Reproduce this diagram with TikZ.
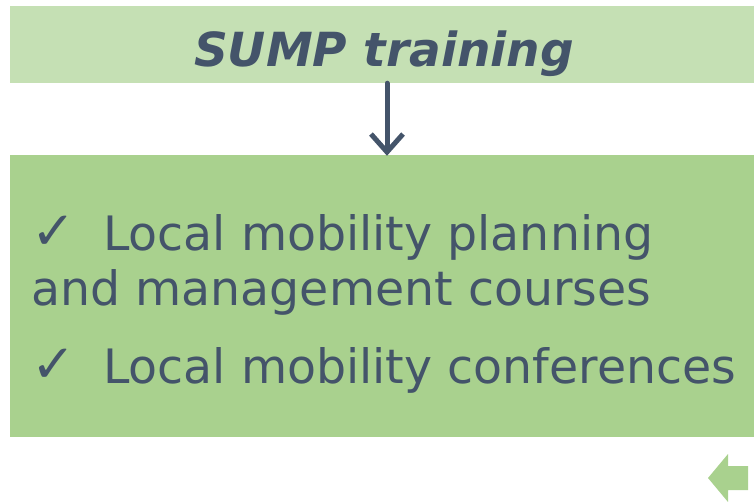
\documentclass[tikz,border=0pt]{standalone}
\usepackage{fontspec}
\setmainfont{DejaVu Sans}
\usetikzlibrary{arrows.meta}
\definecolor{slate}{HTML}{44546A}
\definecolor{lightgreen}{HTML}{C5E0B4}
\definecolor{midgreen}{HTML}{A9D18E}
\begin{document}
\begin{tikzpicture}[x=1pt,y=-1pt,line join=round,line cap=round]
	\tikzset{box/.style={fill=#1,draw=none,inner sep=0pt,minimum width=744pt},
		item/.style={anchor=base west,inner sep=0pt,text=slate,font=\fontsize{47.4}{55}\selectfont},
		tick/.style={item,font=\fontsize{53}{55}\selectfont\bfseries},
		flow/.style={draw=slate,line width=5pt,-{Straight Barb[length=18pt,width=32pt]}}}
	\useasboundingbox (0,0) rectangle (754,501);
	\node[box=lightgreen,minimum height=77pt] (title) at (382,44.5) {};
	\node[anchor=base,inner sep=0pt,text=slate,font=\fontsize{47}{50}\selectfont\bfseries\itshape] (titletext) at (384,66) {SUMP training};
	\node[box=midgreen,minimum height=282pt] (content) at (382,296) {};
	\node[tick] (check1) at (31,249) {\char"2713};
	\node[item] (line1) at (103,250) {Local mobility planning};
	\node[item] (line2) at (31,305) {and management courses};
	\node[tick] (check2) at (31,382) {\char"2713};
	\node[item] (line3) at (103,383) {Local mobility conferences};
	\coordinate (from) at ([xshift=5pt]title.south);
	\coordinate (to) at ([xshift=5pt,yshift=-1pt]content.north);
	\draw[flow] (from) -- (to);
	% back button
	\begin{scope}
	\clip (0,0) rectangle (754,501);
	\fill[midgreen] (708,478) -- (728,454) -- (728,466) -- (748,466) -- (748,490) -- (728,490) -- (728,502) -- cycle;
	\end{scope}
\end{tikzpicture}
\end{document}
